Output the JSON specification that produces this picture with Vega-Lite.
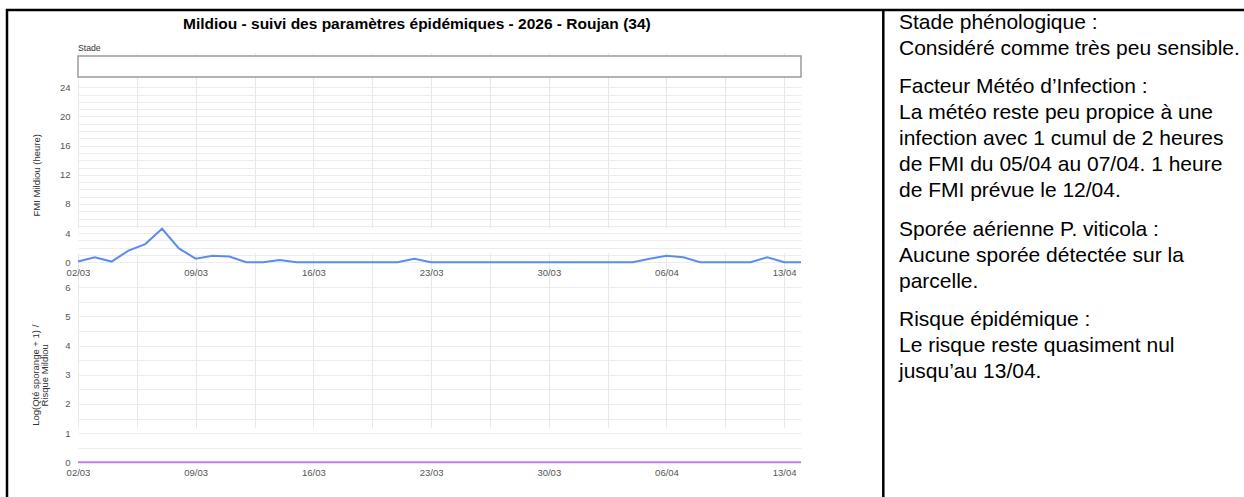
{
  "$schema": "https://vega.github.io/schema/vega-lite/v6.json",
  "width": 1245,
  "height": 495,
  "autosize": {"type": "none"},
  "padding": {"left": 7, "top": 10, "right": -8, "bottom": -8},
  "background": "white",
  "config": {
    "font": "Liberation Sans",
    "view": {"stroke": "#000000", "strokeWidth": 2.5},
    "axis": {"labelFont": "Liberation Sans", "titleFont": "Liberation Sans"}
  },
  "title": {
    "text": "Mildiou - suivi des paramètres épidémiques - 2026 - Roujan (34)",
    "anchor": "start",
    "frame": "group",
    "dx": 176,
    "dy": 18,
    "offset": -18,
    "baseline": "alphabetic",
    "fontSize": 15.5,
    "fontWeight": "bold",
    "font": "Liberation Sans",
    "color": "#000000"
  },
  "datasets": {
    "fmi": [
      {"date": "2026-03-02T00:00:00", "fmi": 0.1},
      {"date": "2026-03-03T00:00:00", "fmi": 0.7},
      {"date": "2026-03-04T00:00:00", "fmi": 0.1},
      {"date": "2026-03-05T00:00:00", "fmi": 1.6},
      {"date": "2026-03-06T00:00:00", "fmi": 2.5},
      {"date": "2026-03-07T00:00:00", "fmi": 4.6},
      {"date": "2026-03-08T00:00:00", "fmi": 1.9},
      {"date": "2026-03-09T00:00:00", "fmi": 0.5},
      {"date": "2026-03-10T00:00:00", "fmi": 0.9},
      {"date": "2026-03-11T00:00:00", "fmi": 0.8},
      {"date": "2026-03-12T00:00:00", "fmi": 0},
      {"date": "2026-03-13T00:00:00", "fmi": 0},
      {"date": "2026-03-14T00:00:00", "fmi": 0.3},
      {"date": "2026-03-15T00:00:00", "fmi": 0},
      {"date": "2026-03-16T00:00:00", "fmi": 0},
      {"date": "2026-03-17T00:00:00", "fmi": 0},
      {"date": "2026-03-18T00:00:00", "fmi": 0},
      {"date": "2026-03-19T00:00:00", "fmi": 0},
      {"date": "2026-03-20T00:00:00", "fmi": 0},
      {"date": "2026-03-21T00:00:00", "fmi": 0},
      {"date": "2026-03-22T00:00:00", "fmi": 0.5},
      {"date": "2026-03-23T00:00:00", "fmi": 0},
      {"date": "2026-03-24T00:00:00", "fmi": 0},
      {"date": "2026-03-25T00:00:00", "fmi": 0},
      {"date": "2026-03-26T00:00:00", "fmi": 0},
      {"date": "2026-03-27T00:00:00", "fmi": 0},
      {"date": "2026-03-28T00:00:00", "fmi": 0},
      {"date": "2026-03-29T00:00:00", "fmi": 0},
      {"date": "2026-03-30T00:00:00", "fmi": 0},
      {"date": "2026-03-31T00:00:00", "fmi": 0},
      {"date": "2026-04-01T00:00:00", "fmi": 0},
      {"date": "2026-04-02T00:00:00", "fmi": 0},
      {"date": "2026-04-03T00:00:00", "fmi": 0},
      {"date": "2026-04-04T00:00:00", "fmi": 0},
      {"date": "2026-04-05T00:00:00", "fmi": 0.5},
      {"date": "2026-04-06T00:00:00", "fmi": 0.9},
      {"date": "2026-04-07T00:00:00", "fmi": 0.7},
      {"date": "2026-04-08T00:00:00", "fmi": 0},
      {"date": "2026-04-09T00:00:00", "fmi": 0},
      {"date": "2026-04-10T00:00:00", "fmi": 0},
      {"date": "2026-04-11T00:00:00", "fmi": 0},
      {"date": "2026-04-12T00:00:00", "fmi": 0.7},
      {"date": "2026-04-13T00:00:00", "fmi": 0},
      {"date": "2026-04-14T00:00:00", "fmi": 0}
    ],
    "risque": [
      {"date": "2026-03-02T00:00:00", "valeur": 0},
      {"date": "2026-03-03T00:00:00", "valeur": 0},
      {"date": "2026-03-04T00:00:00", "valeur": 0},
      {"date": "2026-03-05T00:00:00", "valeur": 0},
      {"date": "2026-03-06T00:00:00", "valeur": 0},
      {"date": "2026-03-07T00:00:00", "valeur": 0},
      {"date": "2026-03-08T00:00:00", "valeur": 0},
      {"date": "2026-03-09T00:00:00", "valeur": 0},
      {"date": "2026-03-10T00:00:00", "valeur": 0},
      {"date": "2026-03-11T00:00:00", "valeur": 0},
      {"date": "2026-03-12T00:00:00", "valeur": 0},
      {"date": "2026-03-13T00:00:00", "valeur": 0},
      {"date": "2026-03-14T00:00:00", "valeur": 0},
      {"date": "2026-03-15T00:00:00", "valeur": 0},
      {"date": "2026-03-16T00:00:00", "valeur": 0},
      {"date": "2026-03-17T00:00:00", "valeur": 0},
      {"date": "2026-03-18T00:00:00", "valeur": 0},
      {"date": "2026-03-19T00:00:00", "valeur": 0},
      {"date": "2026-03-20T00:00:00", "valeur": 0},
      {"date": "2026-03-21T00:00:00", "valeur": 0},
      {"date": "2026-03-22T00:00:00", "valeur": 0},
      {"date": "2026-03-23T00:00:00", "valeur": 0},
      {"date": "2026-03-24T00:00:00", "valeur": 0},
      {"date": "2026-03-25T00:00:00", "valeur": 0},
      {"date": "2026-03-26T00:00:00", "valeur": 0},
      {"date": "2026-03-27T00:00:00", "valeur": 0},
      {"date": "2026-03-28T00:00:00", "valeur": 0},
      {"date": "2026-03-29T00:00:00", "valeur": 0},
      {"date": "2026-03-30T00:00:00", "valeur": 0},
      {"date": "2026-03-31T00:00:00", "valeur": 0},
      {"date": "2026-04-01T00:00:00", "valeur": 0},
      {"date": "2026-04-02T00:00:00", "valeur": 0},
      {"date": "2026-04-03T00:00:00", "valeur": 0},
      {"date": "2026-04-04T00:00:00", "valeur": 0},
      {"date": "2026-04-05T00:00:00", "valeur": 0},
      {"date": "2026-04-06T00:00:00", "valeur": 0},
      {"date": "2026-04-07T00:00:00", "valeur": 0},
      {"date": "2026-04-08T00:00:00", "valeur": 0},
      {"date": "2026-04-09T00:00:00", "valeur": 0},
      {"date": "2026-04-10T00:00:00", "valeur": 0},
      {"date": "2026-04-11T00:00:00", "valeur": 0},
      {"date": "2026-04-12T00:00:00", "valeur": 0},
      {"date": "2026-04-13T00:00:00", "valeur": 0},
      {"date": "2026-04-14T00:00:00", "valeur": 0}
    ],
    "texte": [
      {"ligne": 1, "texte": "Stade phénologique :"},
      {"ligne": 2, "texte": "Considéré comme très peu sensible."},
      {"ligne": 3.47, "texte": "Facteur Météo d’Infection :"},
      {"ligne": 4.47, "texte": "La météo reste peu propice à une"},
      {"ligne": 5.47, "texte": "infection avec 1 cumul de 2 heures"},
      {"ligne": 6.47, "texte": "de FMI du 05/04 au 07/04. 1 heure"},
      {"ligne": 7.47, "texte": "de FMI prévue le 12/04."},
      {"ligne": 8.94, "texte": "Sporée aérienne P. viticola :"},
      {"ligne": 9.94, "texte": "Aucune sporée détectée sur la"},
      {"ligne": 10.94, "texte": "parcelle."},
      {"ligne": 12.41, "texte": "Risque épidémique :"},
      {"ligne": 13.41, "texte": "Le risque reste quasiment nul"},
      {"ligne": 14.41, "texte": "jusqu’au 13/04."}
    ]
  },
  "resolve": {
    "scale": {"x": "independent", "y": "independent"},
    "axis": {"x": "independent", "y": "independent"}
  },
  "layer": [
    {
      "data": {"values": [{}]},
      "layer": [
        {
          "mark": {"type": "rect", "fill": "white", "stroke": "#9a9a9a", "strokeWidth": 1.5},
          "encoding": {
            "x": {"datum": {"year": 2026, "month": 3, "date": 2}, "type": "temporal",
                  "scale": {"domain": [{"year": 2026, "month": 3, "date": 2}, {"year": 2026, "month": 4, "date": 14}], "range": [71, 794], "nice": false},
                  "axis": null},
            "x2": {"datum": {"year": 2026, "month": 4, "date": 14}},
            "y": {"datum": 0, "type": "quantitative", "scale": {"domain": [0, 1], "range": [67, 46], "nice": false, "zero": false}, "axis": null},
            "y2": {"datum": 1}
          }
        },
        {
          "mark": {"type": "text", "text": "Stade", "align": "left", "baseline": "middle", "fontSize": 8.7, "color": "#333333"},
          "encoding": {
            "x": {"datum": {"year": 2026, "month": 3, "date": 2}, "type": "temporal"},
            "y": {"datum": 1.36, "type": "quantitative"}
          }
        }
      ]
    },
    {
      "data": {"name": "fmi"},
      "mark": {"type": "line", "color": "#5b8def", "strokeWidth": 2},
      "encoding": {
        "x": {
          "field": "date", "type": "temporal",
          "scale": {"domain": [{"year": 2026, "month": 3, "date": 2}, {"year": 2026, "month": 4, "date": 14}], "range": [71, 794], "nice": false},
          "axis": {
            "orient": "bottom", "offset": -242.7, "title": null,
            "values": [
              {"year": 2026, "month": 3, "date": 2}, {"year": 2026, "month": 3, "date": 5, "hours": 12},
              {"year": 2026, "month": 3, "date": 9}, {"year": 2026, "month": 3, "date": 12, "hours": 12},
              {"year": 2026, "month": 3, "date": 16}, {"year": 2026, "month": 3, "date": 19, "hours": 12},
              {"year": 2026, "month": 3, "date": 23}, {"year": 2026, "month": 3, "date": 26, "hours": 12},
              {"year": 2026, "month": 3, "date": 30}, {"year": 2026, "month": 4, "date": 2, "hours": 12},
              {"year": 2026, "month": 4, "date": 6}, {"year": 2026, "month": 4, "date": 9, "hours": 12},
              {"year": 2026, "month": 4, "date": 13}
            ],
            "labelExpr": "hours(datum.value) == 12 ? '' : timeFormat(datum.value, '%d/%m')",
            "domain": false, "ticks": false, "labelPadding": 5, "labelFontSize": 9.5, "labelColor": "#555555",
            "labelFlush": false, "labelOverlap": false, "grid": true, "gridColor": "#e8e8e8", "gridWidth": 1
          }
        },
        "y": {
          "field": "fmi", "type": "quantitative",
          "scale": {"domain": [0, 24], "range": [252.3, 77.3], "nice": false, "zero": false},
          "axis": {
            "orient": "left", "offset": -71, "title": "FMI Mildiou (heure)",
            "values": [0,1,2,3,4,5,6,7,8,9,10,11,12,13,14,15,16,17,18,19,20,21,22,23,24],
            "labelExpr": "datum.value % 4 == 0 ? format(datum.value, 'd') : ''",
            "domain": false, "ticks": false, "labelPadding": 8, "labelFontSize": 9.5, "labelColor": "#555555",
            "labelOverlap": false, "titleFontSize": 9.5, "titleFontWeight": "normal", "titleColor": "#333333", "titlePadding": 17.5,
            "grid": true, "gridColor": "#ececec", "gridWidth": 1
          }
        }
      }
    },
    {
      "data": {"name": "risque"},
      "mark": {"type": "line", "color": "#c27cf0", "strokeWidth": 2},
      "encoding": {
        "x": {
          "field": "date", "type": "temporal",
          "scale": {"domain": [{"year": 2026, "month": 3, "date": 2}, {"year": 2026, "month": 4, "date": 14}], "range": [71, 794], "nice": false},
          "axis": {
            "orient": "bottom", "offset": -42.7, "title": null,
            "values": [
              {"year": 2026, "month": 3, "date": 2}, {"year": 2026, "month": 3, "date": 5, "hours": 12},
              {"year": 2026, "month": 3, "date": 9}, {"year": 2026, "month": 3, "date": 12, "hours": 12},
              {"year": 2026, "month": 3, "date": 16}, {"year": 2026, "month": 3, "date": 19, "hours": 12},
              {"year": 2026, "month": 3, "date": 23}, {"year": 2026, "month": 3, "date": 26, "hours": 12},
              {"year": 2026, "month": 3, "date": 30}, {"year": 2026, "month": 4, "date": 2, "hours": 12},
              {"year": 2026, "month": 4, "date": 6}, {"year": 2026, "month": 4, "date": 9, "hours": 12},
              {"year": 2026, "month": 4, "date": 13}
            ],
            "labelExpr": "hours(datum.value) == 12 ? '' : timeFormat(datum.value, '%d/%m')",
            "domain": false, "ticks": false, "labelPadding": 5, "labelFontSize": 9.5, "labelColor": "#555555",
            "labelFlush": false, "labelOverlap": false, "grid": true, "gridColor": "#e8e8e8", "gridWidth": 1
          }
        },
        "y": {
          "field": "valeur", "type": "quantitative",
          "scale": {"domain": [0, 6], "range": [452.3, 277.3], "nice": false, "zero": false},
          "axis": {
            "orient": "left", "offset": -71, "title": ["Log(Qté sporange + 1) /", "Risque Mildiou"],
            "values": [0,0.5,1,1.5,2,2.5,3,3.5,4,4.5,5,5.5,6],
            "labelExpr": "datum.value % 1 == 0 ? format(datum.value, 'd') : ''",
            "domain": false, "ticks": false, "labelPadding": 8, "labelFontSize": 9.5, "labelColor": "#555555",
            "labelOverlap": false, "titleFontSize": 9.5, "titleFontWeight": "normal", "titleColor": "#333333", "titlePadding": 15, "titleLineHeight": 9.5,
            "grid": true, "gridColor": "#ececec", "gridWidth": 1
          }
        }
      }
    },
    {
      "layer": [
        {
          "data": {"values": [{}]},
          "mark": {"type": "rule", "color": "#000000", "strokeWidth": 2.5},
          "encoding": {
            "x": {"datum": 0, "type": "quantitative", "scale": {"domain": [0, 1], "range": [876.3, 1237], "nice": false, "zero": false}, "axis": null},
            "y": {"value": 0},
            "y2": {"value": "height"}
          }
        },
        {
          "data": {"name": "texte"},
          "mark": {"type": "text", "align": "left", "baseline": "alphabetic", "fontSize": 21, "font": "Liberation Sans", "color": "#000000", "dx": 15.7},
          "encoding": {
            "x": {"datum": 0, "type": "quantitative"},
            "y": {"field": "ligne", "type": "quantitative", "scale": {"domain": [1, 14.41], "range": [19, 368], "nice": false, "zero": false}, "axis": null},
            "text": {"field": "texte"}
          }
        }
      ]
    }
  ]
}
